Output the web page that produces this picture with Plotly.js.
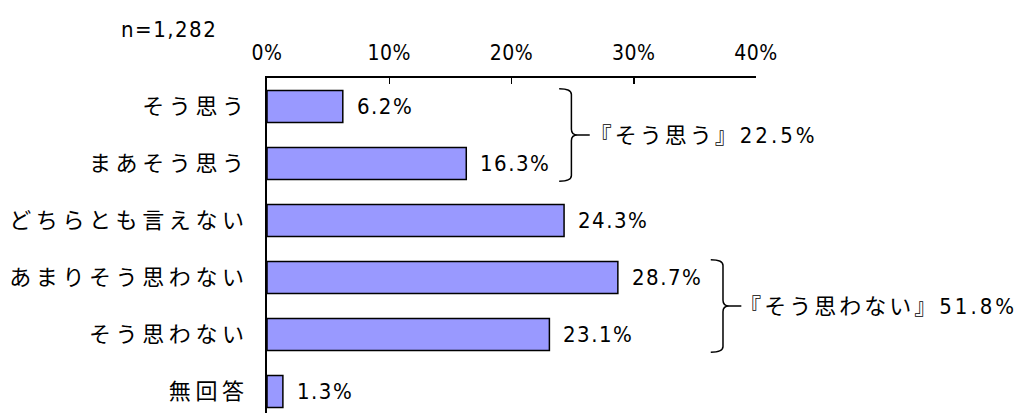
<!DOCTYPE html>
<html>
<head>
<meta charset="utf-8">
<script src="https://cdn.plot.ly/plotly-3.0.1.min.js"></script>
<style>
  html, body { margin: 0; padding: 0; background: #fff; }
  #chart { width: 1032px; height: 413px; }
  .ytick text { letter-spacing: 4.6px; }
  .xtick text { letter-spacing: 0.5px; }
  .annotation-text { letter-spacing: 1.5px; }
</style>
</head>
<body>
<div id="chart"></div>
<script>
const categories = ['そう思う', 'まあそう思う', 'どちらとも言えない', 'あまりそう思わない', 'そう思わない', '無回答'];
const values = [6.2, 16.3, 24.3, 28.7, 23.1, 1.3];
const xTickVals = [0, 10, 20, 30, 40];
const xTickText = ['0%', '10%', '20%', '30%', '40%'];
const groupNames = ['そう思う', 'そう思わない'];
const groupFirst = [0, 3];
const groupLast = [1, 4];
const sampleLabel = 'n=1,282';

const FONT = 'Noto Sans CJK JP, Noto Sans, sans-serif';
const NUMFONT = 'Liberation Sans Narrow, DejaVu Sans Condensed, Noto Sans CJK JP, sans-serif';
const idx = categories.map((_, i) => i);

const trace = {
  type: 'bar',
  orientation: 'h',
  x: values,
  y: idx,
  width: 0.56,
  marker: { color: '#9999FF', line: { color: '#000000', width: 1.5 } },
  hoverinfo: 'skip'
};

const annotations = [];
values.forEach((v, i) => {
  annotations.push({
    x: v, y: i, xref: 'x', yref: 'y',
    text: v.toFixed(1) + '%',
    showarrow: false, xanchor: 'left', yanchor: 'middle', xshift: 12,
    font: { family: NUMFONT, size: 22, color: '#000' }
  });
});
annotations.push({
  x: 0, y: 1, xref: 'paper', yref: 'paper',
  text: sampleLabel, showarrow: false,
  xanchor: 'right', yanchor: 'middle', xshift: -48, yshift: 49,
  font: { family: NUMFONT, size: 22, color: '#000' }
});

const groupAnnStart = annotations.length;
const shapes = [];
groupNames.forEach((name, g) => {
  const a = groupFirst[g], b = groupLast[g];
  let mx = 0, sum = 0;
  for (let i = a; i <= b; i++) { mx = Math.max(mx, values[i]); sum += values[i]; }
  const bx = mx + 8.6;
  const top = a - 0.31, bot = b + 0.31, mid = (a + b) / 2;
  const hook = 1.0, prong = 1.5, rx = 0.5, ry = 0.1;
  const p =
    `M ${bx - hook} ${top} Q ${bx} ${top} ${bx} ${top + ry} ` +
    `L ${bx} ${mid - ry} Q ${bx} ${mid} ${bx + rx} ${mid} L ${bx + prong} ${mid} ` +
    `M ${bx + rx} ${mid} Q ${bx} ${mid} ${bx} ${mid + ry} ` +
    `L ${bx} ${bot - ry} Q ${bx} ${bot} ${bx - hook} ${bot}`;
  shapes.push({ type: 'path', xref: 'x', yref: 'y', path: p, line: { color: '#000', width: 1.5 } });
  annotations.push({
    x: bx + prong, y: mid, xref: 'x', yref: 'y',
    text: '『' + name + '』' + sum.toFixed(1) + '%',
    showarrow: false, xanchor: 'left', yanchor: 'middle', xshift: 6,
    font: { family: NUMFONT, size: 22, color: '#000' }
  });
});

const layout = {
  width: 1032, height: 413,
  margin: { l: 267, r: 276, t: 78, b: 0, pad: 0 },
  paper_bgcolor: '#fff', plot_bgcolor: '#fff',
  showlegend: false,
  xaxis: {
    side: 'top', range: [0, 40], tickvals: xTickVals, ticktext: xTickText,
    showline: true, linecolor: '#000', linewidth: 2, mirror: false,
    ticks: 'inside', ticklen: 6, tickwidth: 1.5, tickcolor: '#000',
    showgrid: false, zeroline: false, ticklabelstandoff: 8,
    tickfont: { family: NUMFONT, size: 21, color: '#000' }, fixedrange: true
  },
  yaxis: {
    range: [5.377, -0.5], tickvals: idx, ticktext: categories,
    showline: true, linecolor: '#000', linewidth: 2,
    ticks: '', showgrid: false, zeroline: false, ticklabelstandoff: 12,
    tickfont: { family: FONT, size: 22, color: '#000' }, fixedrange: true
  },
  shapes: shapes,
  annotations: annotations
};

Plotly.newPlot('chart', [trace], layout, { displayModeBar: false, staticPlot: true }).then(() => {
  document.querySelectorAll('#chart .annotation').forEach(el => {
    const i = +el.getAttribute('data-index');
    if (i >= groupAnnStart) {
      const t = el.querySelector('.annotation-text');
      if (t) t.style.letterSpacing = '3px';
    }
  });
});
</script>
</body>
</html>
